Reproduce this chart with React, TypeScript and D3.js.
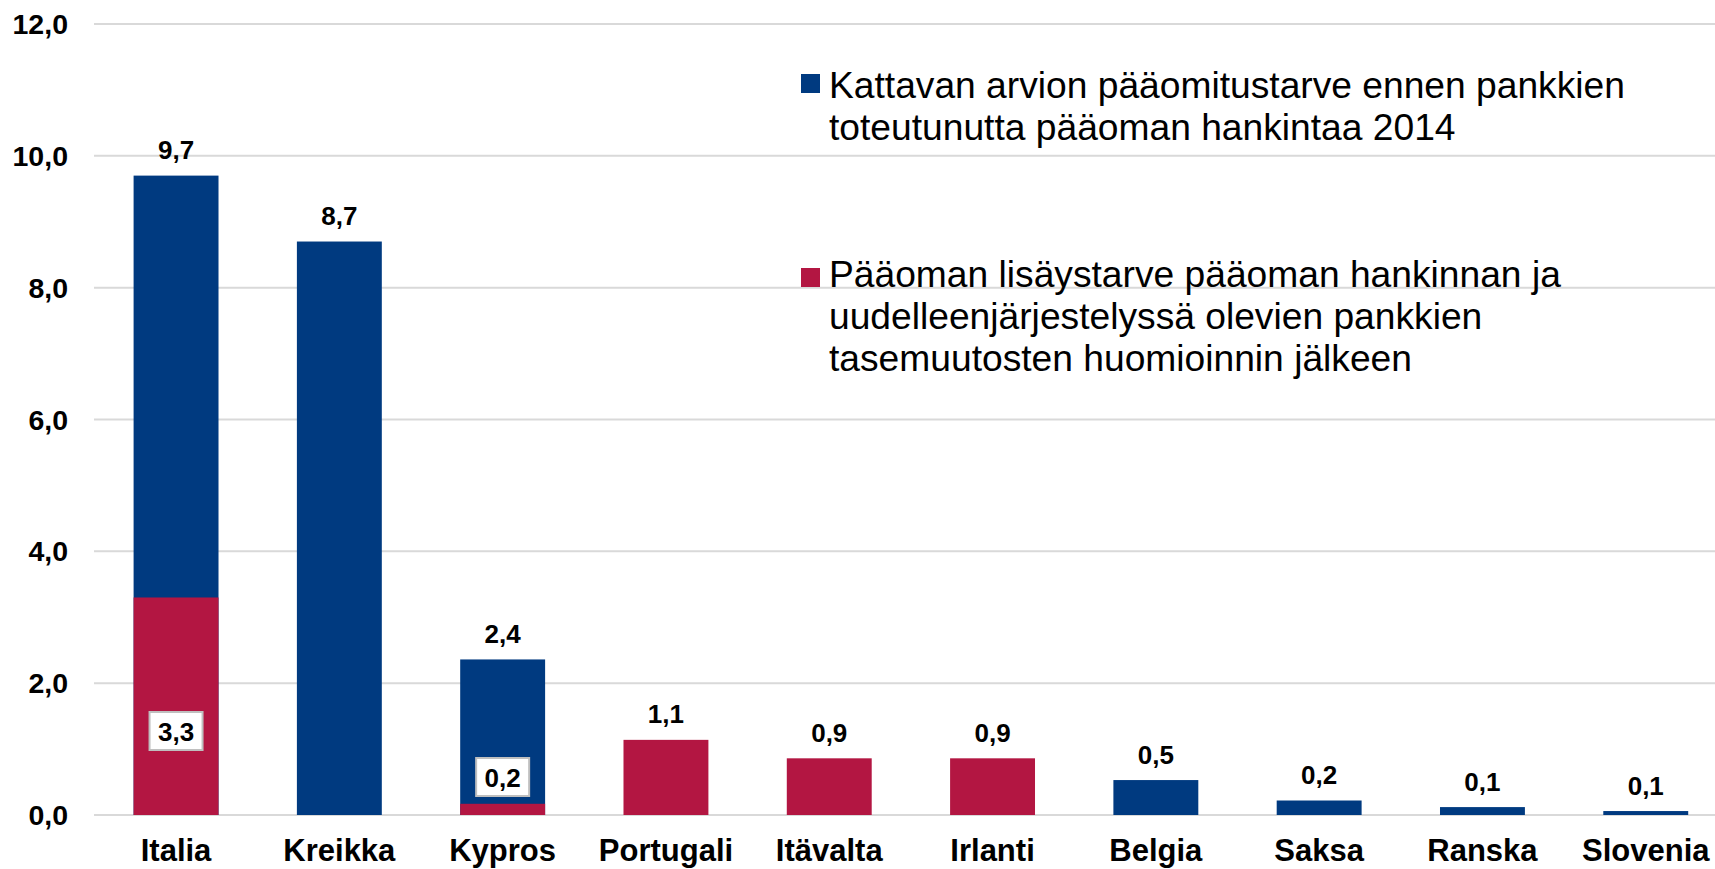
import React, { useEffect, useRef } from "react";
import * as d3 from "d3";

// Chart data
const categories = [
  "Italia",
  "Kreikka",
  "Kypros",
  "Portugali",
  "Itävalta",
  "Irlanti",
  "Belgia",
  "Saksa",
  "Ranska",
  "Slovenia",
];

// Kattavan arvion pääomitustarve (blue)
const blueValues = [9.7, 8.7, 2.36, 0, 0, 0, 0.53, 0.22, 0.12, 0.06];
// Pääoman lisäystarve (red)
const redValues = [3.3, 0, 0.17, 1.14, 0.86, 0.86, 0, 0, 0, 0];

const yTicks = [0, 2, 4, 6, 8, 10, 12];

const legendBlue = [
  "Kattavan arvion pääomitustarve ennen pankkien",
  "toteutunutta pääoman hankintaa 2014",
];
const legendRed = [
  "Pääoman lisäystarve pääoman hankinnan ja",
  "uudelleenjärjestelyssä olevien pankkien",
  "tasemuutosten huomioinnin jälkeen",
];

const BLUE = "#003a80";
const RED = "#b31642";
const FONT = "'Liberation Sans', Arial, Helvetica, sans-serif";

const W = 1715;
const H = 869;

// boxed labels inside the bars were nudged by hand in the original
const boxLift: Record<string, number> = { Italia: 84, Kypros: 38 };

const fi = d3.formatLocale({
  decimal: ",",
  thousands: " ",
  grouping: [3],
  currency: ["", " €"],
});
const fmt = fi.format(".1f");

export default function App() {
  const ref = useRef<SVGSVGElement>(null);

  useEffect(() => {
    if (!ref.current) return;
    const svg = d3.select(ref.current);
    svg.selectAll("*").remove();

    const x = d3
      .scaleBand<string>()
      .domain(categories)
      .range([94.4, 1727.4])
      .paddingInner(0.48)
      .paddingOuter(0.24);

    const y = d3.scaleLinear().domain([0, 12]).range([815, 24]);

    // Grid lines
    svg
      .append("g")
      .selectAll("line")
      .data(yTicks)
      .join("line")
      .attr("x1", 94)
      .attr("x2", W)
      .attr("y1", (d) => y(d))
      .attr("y2", (d) => y(d))
      .attr("stroke", "#d9d9d9")
      .attr("stroke-width", 2);

    // Y labels
    svg
      .append("g")
      .selectAll("text")
      .data(yTicks)
      .join("text")
      .attr("x", 68)
      .attr("y", (d) => y(d) + 10)
      .attr("text-anchor", "end")
      .attr("font-family", FONT)
      .attr("font-weight", "bold")
      .attr("font-size", 28.5)
      .attr("fill", "#000")
      .text((d) => fmt(d));

    const rows = categories.map((c, i) => ({
      c,
      blue: blueValues[i],
      red: redValues[i],
    }));

    // Blue bars
    svg
      .append("g")
      .selectAll("rect")
      .data(rows.filter((r) => r.blue > 0))
      .join("rect")
      .attr("x", (d) => x(d.c)!)
      .attr("width", x.bandwidth())
      .attr("y", (d) => y(d.blue))
      .attr("height", (d) => y(0) - y(d.blue))
      .attr("fill", BLUE);

    // Red bars (drawn over the blue ones)
    svg
      .append("g")
      .selectAll("rect")
      .data(rows.filter((r) => r.red > 0))
      .join("rect")
      .attr("x", (d) => x(d.c)!)
      .attr("width", x.bandwidth())
      .attr("y", (d) => y(d.red))
      .attr("height", (d) => y(0) - y(d.red))
      .attr("fill", RED);

    // Top value labels
    svg
      .append("g")
      .selectAll("text")
      .data(rows)
      .join("text")
      .attr("x", (d) => x(d.c)! + x.bandwidth() / 2)
      .attr("y", (d) => y(Math.max(d.blue, d.red)) - 16.5)
      .attr("text-anchor", "middle")
      .attr("font-family", FONT)
      .attr("font-weight", "bold")
      .attr("font-size", 26)
      .attr("fill", "#000")
      .text((d) => fmt(Math.max(d.blue, d.red)));

    // Boxed labels for red part where both series exist
    const boxed = rows.filter((r) => r.blue > 0 && r.red > 0);
    const bx = svg.append("g").selectAll("g").data(boxed).join("g");
    bx.append("rect")
      .attr("x", (d) => x(d.c)! + x.bandwidth() / 2 - 26.5)
      .attr("y", (d) => y(0) - (boxLift[d.c] ?? 40) - 19)
      .attr("width", 53)
      .attr("height", 38)
      .attr("fill", "#fff")
      .attr("stroke", "#bfbfbf")
      .attr("stroke-width", 2);
    bx.append("text")
      .attr("x", (d) => x(d.c)! + x.bandwidth() / 2)
      .attr("y", (d) => y(0) - (boxLift[d.c] ?? 40) + 9.5)
      .attr("text-anchor", "middle")
      .attr("font-family", FONT)
      .attr("font-weight", "bold")
      .attr("font-size", 26)
      .attr("fill", "#000")
      .text((d) => fmt(d.red));

    // Category labels
    svg
      .append("g")
      .selectAll("text")
      .data(categories)
      .join("text")
      .attr("x", (d) => x(d)! + x.bandwidth() / 2)
      .attr("y", 861)
      .attr("text-anchor", "middle")
      .attr("font-family", FONT)
      .attr("font-weight", "bold")
      .attr("font-size", 31)
      .attr("fill", "#000")
      .text((d) => d);

    // Legend
    const legend = [
      { color: BLUE, lines: legendBlue, squareY: 74, baseY: 97.5 },
      { color: RED, lines: legendRed, squareY: 268, baseY: 286.5 },
    ];
    legend.forEach((l) => {
      svg
        .append("rect")
        .attr("x", 801)
        .attr("y", l.squareY)
        .attr("width", 19)
        .attr("height", 19)
        .attr("fill", l.color);
      svg
        .append("g")
        .selectAll("text")
        .data(l.lines)
        .join("text")
        .attr("x", 829)
        .attr("y", (_, i) => l.baseY + i * 42)
        .attr("font-family", FONT)
        .attr("font-size", 37.2)
        .attr("fill", "#000")
        .text((d) => d);
    });
  }, []);

  return (
    <svg
      ref={ref}
      width={W}
      height={H}
      style={{ position: "absolute", left: 0, top: 0, display: "block", background: "#fff" }}
    />
  );
}
